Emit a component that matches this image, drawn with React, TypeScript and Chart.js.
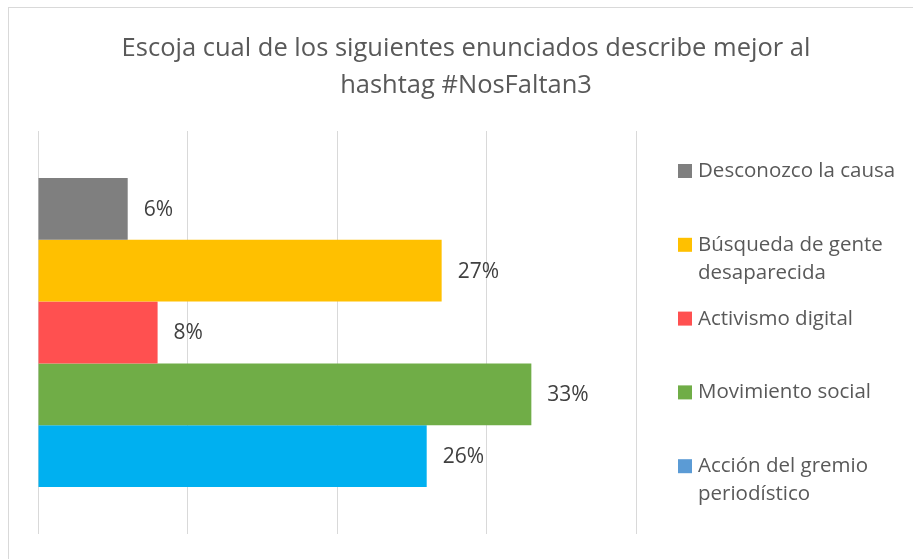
import React, { useEffect, useRef } from 'react';
import { Chart, registerables } from 'chart.js';

Chart.register(...registerables);

const titleLines = ['Escoja cual de los siguientes enunciados describe mejor al', 'hashtag #NosFaltan3'];
const categories = [''];
const seriesNames = [
  'Desconozco la causa',
  'Búsqueda de gente desaparecida',
  'Activismo digital',
  'Movimiento social',
  'Acción del gremio periodístico',
];
const seriesValues = [6, 27, 8, 33, 26];
const barColors = ['#7F7F7F', '#FFC000', '#FF5050', '#70AD47', '#00B0F0'];
const legendColors = ['#7F7F7F', '#FFC000', '#FF5050', '#70AD47', '#5B9BD5'];
const axisMin = 0;
const axisMax = 40;
const axisStep = 10;

const FONT = '"Open Sans", "DejaVu Sans", sans-serif';

function drawScaledText(ctx: CanvasRenderingContext2D, text: string, x: number, y: number, sx: number, align: CanvasTextAlign) {
  ctx.save();
  ctx.translate(x, y);
  ctx.scale(sx, 1);
  ctx.textAlign = align;
  ctx.fillText(text, 0, 0);
  ctx.restore();
}

const framePlugin = {
  id: 'frame',
  beforeDraw(chart: any) {
    const ctx = chart.ctx as CanvasRenderingContext2D;
    ctx.save();
    ctx.fillStyle = '#FFFFFF';
    ctx.fillRect(0, 0, chart.width, chart.height);
    ctx.strokeStyle = '#D9D9D9';
    ctx.lineWidth = 1;
    ctx.strokeRect(8.5, 7.5, chart.width + 20, chart.height + 20);
    ctx.restore();
  },
};

const titlePlugin = {
  id: 'customTitle',
  afterDraw(chart: any) {
    const ctx = chart.ctx as CanvasRenderingContext2D;
    ctx.save();
    ctx.fillStyle = '#595959';
    ctx.font = `25.5px ${FONT}`;
    ctx.textBaseline = 'alphabetic';
    titleLines.forEach((line, i) => {
      drawScaledText(ctx, line, 466, 56 + i * 37, 1, 'center');
    });
    ctx.restore();
  },
};

const labelPlugin = {
  id: 'barLabels',
  afterDatasetsDraw(chart: any) {
    const ctx = chart.ctx as CanvasRenderingContext2D;
    ctx.save();
    ctx.fillStyle = '#404040';
    ctx.font = `21px ${FONT}`;
    ctx.textBaseline = 'middle';
    chart.data.datasets.forEach((ds: any, di: number) => {
      const meta = chart.getDatasetMeta(di);
      meta.data.forEach((el: any, i: number) => {
        const v = ds.data[i];
        drawScaledText(ctx, `${v}%`, el.x + 16, el.y + 1, 1, 'left');
      });
    });
    ctx.restore();
  },
};

function wrap(ctx: CanvasRenderingContext2D, text: string, maxW: number, sx: number): string[] {
  const words = text.split(' ');
  const lines: string[] = [];
  let cur = '';
  words.forEach((w) => {
    const t = cur ? cur + ' ' + w : w;
    if (ctx.measureText(t).width * sx > maxW && cur) {
      lines.push(cur);
      cur = w;
    } else {
      cur = t;
    }
  });
  if (cur) lines.push(cur);
  return lines;
}

const legendPlugin = {
  id: 'customLegend',
  afterDraw(chart: any) {
    const ctx = chart.ctx as CanvasRenderingContext2D;
    ctx.save();
    ctx.font = `20.5px ${FONT}`;
    ctx.textBaseline = 'alphabetic';
    const sx = 1;
    chart.data.datasets.forEach((ds: any, i: number) => {
      const baseY = 177 + i * 73.8;
      ctx.fillStyle = legendColors[i];
      ctx.fillRect(678, baseY - 13, 14, 14);
      ctx.fillStyle = '#595959';
      const lines = wrap(ctx, ds.label, 210, sx);
      lines.forEach((ln, li) => {
        drawScaledText(ctx, ln, 698, baseY + li * 28, sx, 'left');
      });
    });
    ctx.restore();
  },
};

export default function App() {
  const ref = useRef<HTMLCanvasElement | null>(null);
  useEffect(() => {
    if (!ref.current) return;
    const chart = new Chart(ref.current, {
      type: 'bar',
      data: {
        labels: categories,
        datasets: seriesNames.map((name, i) => ({
          label: name,
          data: [seriesValues[i]],
          backgroundColor: barColors[i],
          borderWidth: 0,
          categoryPercentage: 0.767,
          barPercentage: 1,
        })),
      },
      options: {
        indexAxis: 'y',
        responsive: false,
        animation: false,
        devicePixelRatio: 1,
        layout: { padding: { left: 38, top: 131, right: 277, bottom: 25 } },
        plugins: {
          legend: { display: false },
          title: { display: false },
          tooltip: { enabled: false },
        },
        scales: {
          x: {
            min: axisMin,
            max: axisMax,
            ticks: { display: false, stepSize: axisStep },
            grid: { color: '#D9D9D9', lineWidth: 1, drawTicks: false, tickLength: 0 },
            border: { display: false },
          },
          y: {
            display: false,
          },
        },
      },
      plugins: [framePlugin, titlePlugin, labelPlugin, legendPlugin],
    });
    return () => chart.destroy();
  }, []);
  return (
    <div style={{ position: 'absolute', left: 0, top: 0, width: 913, height: 559 }}>
      <canvas ref={ref} width={913} height={559} />
    </div>
  );
}
